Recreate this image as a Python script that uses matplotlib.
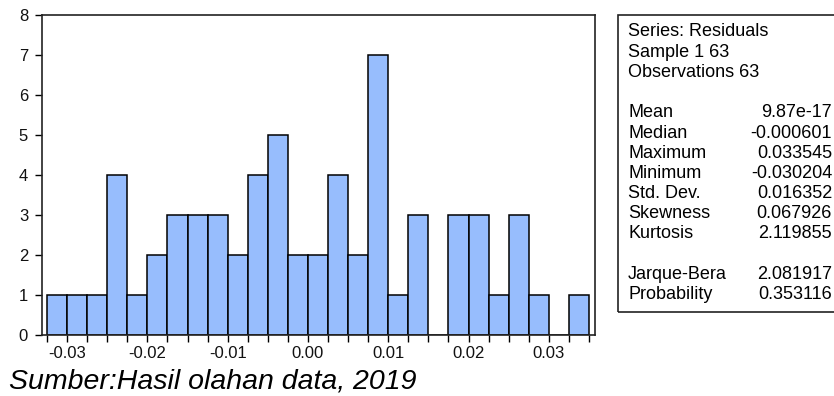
import matplotlib
matplotlib.use("Agg")
import matplotlib.pyplot as plt
from matplotlib.patches import Rectangle
from matplotlib.ticker import MultipleLocator, FormatStrFormatter

# histogram of residuals
bin_start = -0.0325
bin_width = 0.0025
counts = [1, 1, 1, 4, 1, 2, 3, 3, 3, 2, 4, 5, 2, 2, 4, 2, 7, 1, 3, 0, 3, 3, 1, 3, 1, 0, 1]

stat_names = ["Mean", "Median", "Maximum", "Minimum", "Std. Dev.", "Skewness", "Kurtosis"]
stat_values = ["9.87e-17", "-0.000601", "0.033545", "-0.030204", "0.016352", "0.067926", "2.119855"]
test_names = ["Jarque-Bera", "Probability"]
test_values = ["2.081917", "0.353116"]
header = ["Series: Residuals", "Sample 1 63", "Observations 63"]
source = "Sumber:Hasil olahan data, 2019"

plt.rcParams["font.family"] = ["Liberation Sans", "DejaVu Sans"]

W, H = 834, 396
fig = plt.figure(figsize=(W / 100, H / 100), dpi=100)
ax = fig.add_axes([42 / W, 1 - 335 / H, (595 - 42) / W, (335 - 15) / H])

lefts = [bin_start + i * bin_width for i in range(len(counts))]
ax.bar(lefts, counts, width=bin_width, align="edge",
       color="#97BDFD", edgecolor="black", linewidth=1.1)

ax.set_xlim(-0.033125, 0.03575)
ax.set_ylim(0, 8)
ax.xaxis.set_major_locator(MultipleLocator(0.01))
ax.xaxis.set_minor_locator(MultipleLocator(bin_width))
ax.xaxis.set_major_formatter(FormatStrFormatter("%.2f"))
ax.yaxis.set_major_locator(MultipleLocator(1))
ax.tick_params(axis="both", which="both", direction="out", length=5, width=1,
               labelsize=12, labelcolor="#111111")
ax.tick_params(axis="x", pad=3)
ax.tick_params(axis="y", pad=5)
for s in ax.spines.values():
    s.set_color("#222222")
    s.set_linewidth(1.2)

# statistics box
fig.patches.append(Rectangle((618 / W, 1 - 312 / H), 0.3, (312 - 15) / H,
                             transform=fig.transFigure, fill=False,
                             edgecolor="#222222", linewidth=1.2))
lx, rx = 628 / W, 832 / W
y = 32
for line in header:
    fig.text(lx, 1 - y / H, line, fontsize=13, va="center", ha="left")
    y += 20.2
y += 20.2
for name, val in zip(stat_names, stat_values):
    fig.text(lx, 1 - y / H, name, fontsize=13, va="center", ha="left")
    fig.text(rx, 1 - y / H, val, fontsize=13, va="center", ha="right")
    y += 20.2
y += 20.2
for name, val in zip(test_names, test_values):
    fig.text(lx, 1 - y / H, name, fontsize=13, va="center", ha="left")
    fig.text(rx, 1 - y / H, val, fontsize=13, va="center", ha="right")
    y += 20.2

fig.text(9 / W, 1 - 382 / H, source, fontsize=20.5, style="italic", va="center", ha="left")

fig.savefig("out.png", dpi=100)
